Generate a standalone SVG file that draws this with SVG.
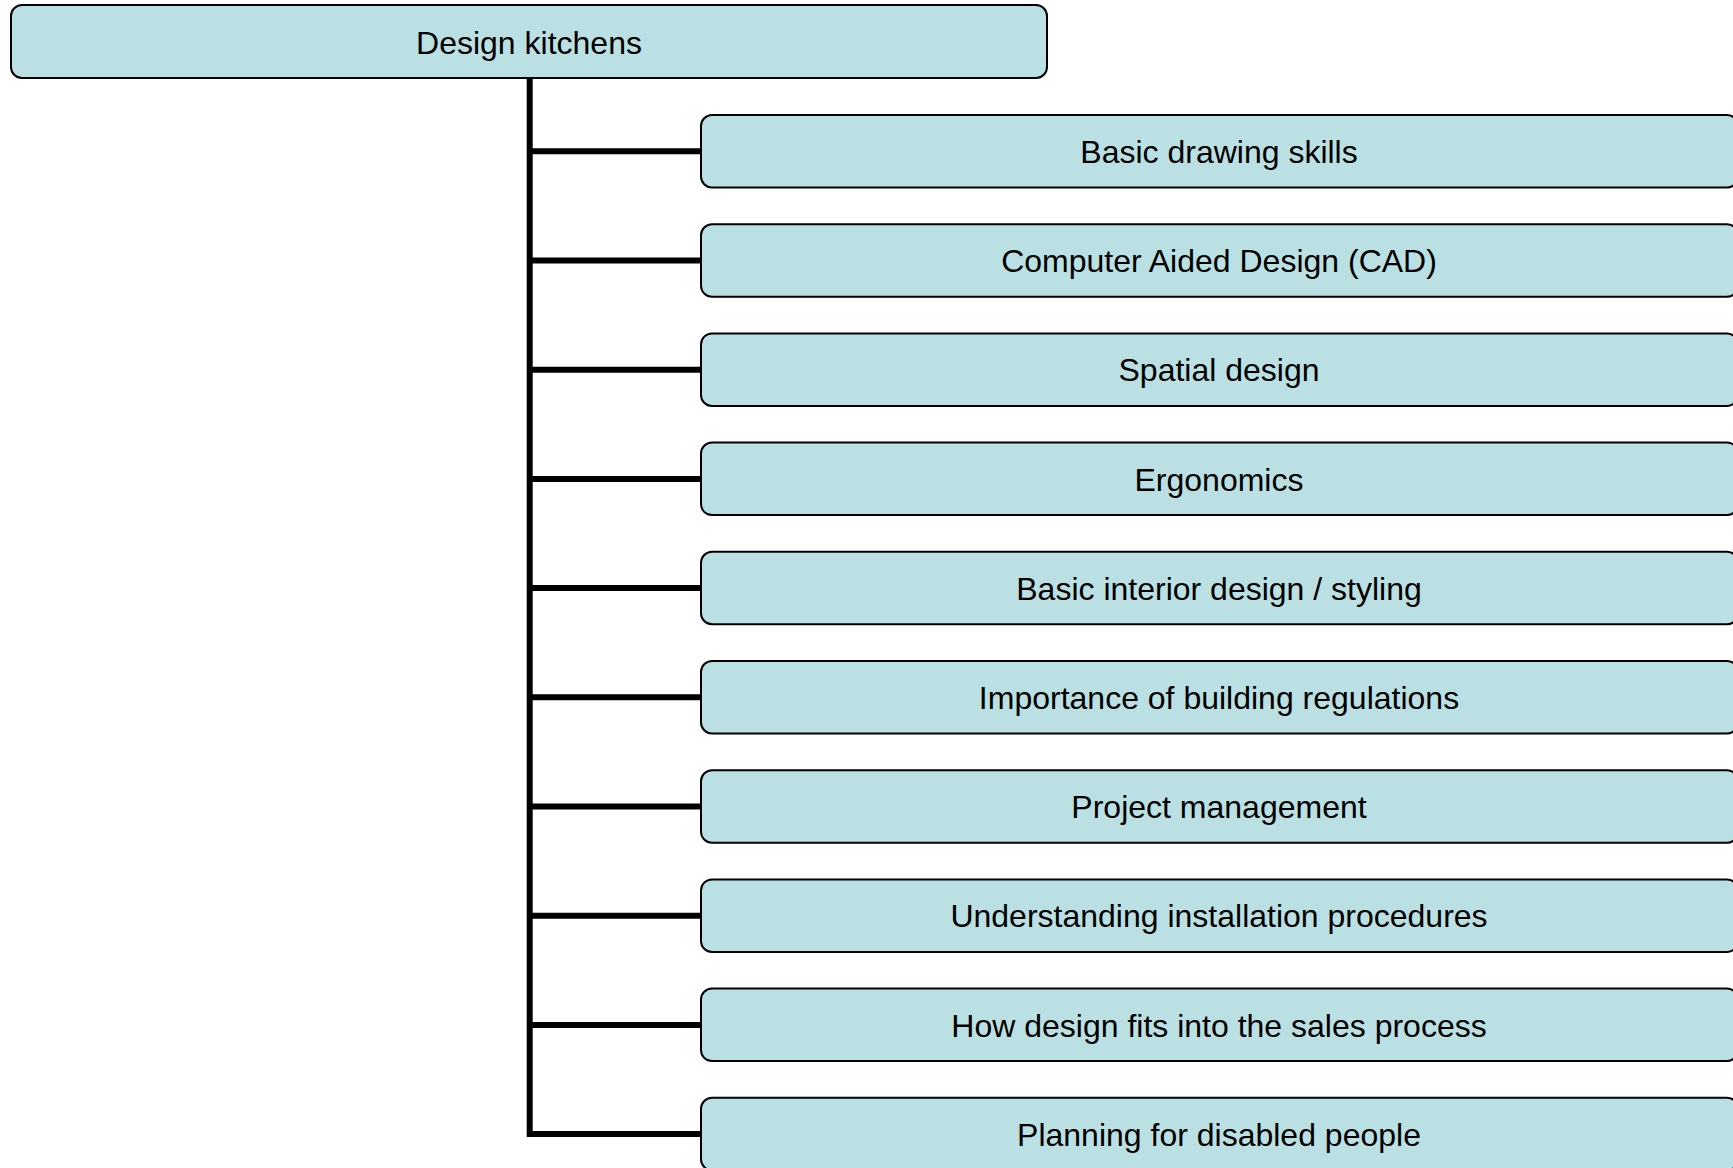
<svg xmlns="http://www.w3.org/2000/svg" width="1733" height="1168" viewBox="0 0 1733 1168">
<style>
.box{fill:#BAE0E3;stroke:#000;stroke-width:2}
.lbl{font-family:"Liberation Sans",Arial,sans-serif;font-size:32px;fill:#000;text-anchor:middle}
.conn{fill:none;stroke:#000;stroke-width:6;stroke-linejoin:miter;stroke-linecap:butt}
</style>
<rect width="1733" height="1168" fill="#fff"/>
<g id="connectors">
<path class="conn" d="M529.7 78 V1134 H702"/>
<path class="conn" d="M529.7 151.3 H702 M529.7 260.5 H702 M529.7 369.7 H702 M529.7 478.9 H702 M529.7 588.1 H702 M529.7 697.3 H702 M529.7 806.5 H702 M529.7 915.7 H702 M529.7 1024.9 H702"/>
</g>
<g id="root"><rect class="box" x="11" y="5" width="1036" height="73" rx="11"/><text class="lbl" x="529" y="54">Design kitchens</text></g>
<g id="n1"><rect class="box" x="701" y="115" width="1037" height="72.5" rx="11"/><text class="lbl" x="1219" y="163">Basic drawing skills</text></g>
<g id="n2"><rect class="box" x="701" y="224.2" width="1037" height="72.5" rx="11"/><text class="lbl" x="1219" y="272.2">Computer Aided Design (CAD)</text></g>
<g id="n3"><rect class="box" x="701" y="333.4" width="1037" height="72.5" rx="11"/><text class="lbl" x="1219" y="381.4">Spatial design</text></g>
<g id="n4"><rect class="box" x="701" y="442.6" width="1037" height="72.5" rx="11"/><text class="lbl" x="1219" y="490.6">Ergonomics</text></g>
<g id="n5"><rect class="box" x="701" y="551.8" width="1037" height="72.5" rx="11"/><text class="lbl" x="1219" y="599.8">Basic interior design / styling</text></g>
<g id="n6"><rect class="box" x="701" y="661" width="1037" height="72.5" rx="11"/><text class="lbl" x="1219" y="709">Importance of building regulations</text></g>
<g id="n7"><rect class="box" x="701" y="770.2" width="1037" height="72.5" rx="11"/><text class="lbl" x="1219" y="818.2">Project management</text></g>
<g id="n8"><rect class="box" x="701" y="879.4" width="1037" height="72.5" rx="11"/><text class="lbl" x="1219" y="927.4">Understanding installation procedures</text></g>
<g id="n9"><rect class="box" x="701" y="988.6" width="1037" height="72.5" rx="11"/><text class="lbl" x="1219" y="1036.6">How design fits into the sales process</text></g>
<g id="n10"><rect class="box" x="701" y="1097.8" width="1037" height="72.5" rx="11"/><text class="lbl" x="1219" y="1145.8">Planning for disabled people</text></g>
</svg>
